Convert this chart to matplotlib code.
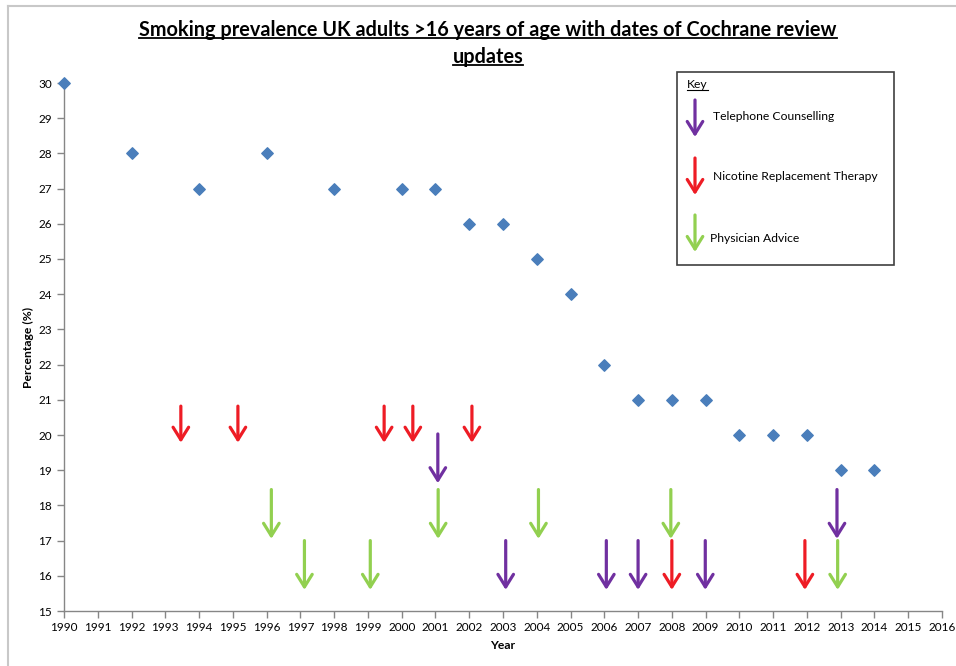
# Smoking prevalence UK adults with Cochrane review update dates
import numpy as np
import matplotlib
matplotlib.use('Agg')
import matplotlib.pyplot as plt
from matplotlib.lines import Line2D

plt.rcParams['font.family'] = ['Lato', 'DejaVu Sans']

# Data
years = [1990, 1992, 1994, 1996, 1998, 2000, 2001, 2002, 2003, 2004,
         2005, 2006, 2007, 2008, 2009, 2010, 2011, 2012, 2013, 2014]
prevalence = [30, 28, 27, 28, 27, 27, 27, 26, 26, 25,
              24, 22, 21, 21, 21, 20, 20, 20, 19, 19]

# review update dates (fractional year), with arrow top / bottom in %
tel_years = [2001.07, 2003.08, 2006.06, 2007.0, 2008.99, 2012.89]
tel_top = [20.03, 17.0, 17.0, 17.0, 17.0, 18.45]
tel_bottom = [18.63, 15.6, 15.6, 15.6, 15.6, 17.05]

nrt_years = [1993.46, 1995.15, 1999.48, 2000.33, 2002.08, 2008.0, 2011.94]
nrt_top = [20.82, 20.82, 20.82, 20.82, 20.82, 17.0, 17.0]
nrt_bottom = [19.78, 19.78, 19.78, 19.78, 19.78, 15.6, 15.6]

pa_years = [1996.14, 1997.12, 1999.07, 2001.08, 2004.05, 2007.97, 2012.91]
pa_top = [18.45, 17.0, 17.0, 18.45, 18.45, 18.45, 17.0]
pa_bottom = [17.05, 15.6, 15.6, 17.05, 17.05, 17.05, 15.6]

key_labels = ['Telephone Counselling', 'Nicotine Replacement Therapy', 'Physician Advice']
colors = ['#7030A0', '#EE1C25', '#92D050']

fig = plt.figure(figsize=(9.56, 6.66), dpi=100)
ax = fig.add_axes([64/956, 55/666, 878/956, 528/666])

ax.scatter(years, prevalence, marker='D', s=34, color='#4A7EBB', zorder=3, clip_on=False)

arrow_style = dict(arrowstyle='->,head_length=0.45,head_width=0.28', lw=2.3,
                   mutation_scale=20, shrinkA=0, shrinkB=0)

def draw_arrows(xs, tops, bottoms, color):
    for x, t, b in zip(xs, tops, bottoms):
        ax.annotate('', xy=(x, b), xytext=(x, t),
                    arrowprops=dict(color=color, **arrow_style))

draw_arrows(nrt_years, nrt_top, nrt_bottom, colors[1])
draw_arrows(pa_years, pa_top, pa_bottom, colors[2])
draw_arrows(tel_years, tel_top, tel_bottom, colors[0])

ax.set_xlim(1990, 2016)
ax.set_ylim(15, 30)
ax.set_xticks(np.arange(1990, 2017))
ax.set_yticks(np.arange(15, 31))
ax.tick_params(axis='both', direction='out', length=5, width=1, color='#868686',
               labelsize=8.5, labelcolor='black')
ax.tick_params(axis='x', pad=3)
for s in ['top', 'right']:
    ax.spines[s].set_visible(False)
for s in ['left', 'bottom']:
    ax.spines[s].set_color('#868686')
    ax.spines[s].set_linewidth(1)

ax.set_xlabel('Year', fontsize=8.7, fontweight='bold', labelpad=5)
ax.set_ylabel('Percentage (%)', fontsize=8.7, fontweight='bold', labelpad=3)

# title, underlined
t1 = fig.text(488/956, 1 - 30/666,
              'Smoking prevalence UK adults >16 years of age with dates of Cochrane review',
              fontsize=14.3, fontweight='bold', ha='center', va='center')
t2 = fig.text(488/956, 1 - 57/666, 'updates', fontsize=14.3, fontweight='bold',
              ha='center', va='center')

# key box
box = plt.Rectangle((677/956, 1 - 265/666), 217/956, 193/666, transform=fig.transFigure,
                    fill=False, edgecolor='#404040', lw=1.2)
fig.add_artist(box)
t3 = fig.text(687/956, 1 - 85/666, 'Key', fontsize=8.7, ha='left', va='center')
key_y = [(100, 137), (158, 195), (215, 252)]
text_pos = [(713, 116), (713, 177), (710, 238)]
for (y0, y1), (tx, ty), lab, c in zip(key_y, text_pos, key_labels, colors):
    fig.add_artist(matplotlib.patches.FancyArrowPatch(
        (695/956, 1 - y0/666), (695/956, 1 - y1/666), transform=fig.transFigure,
        color=c, **arrow_style))
    fig.text(tx/956, 1 - ty/666, lab, fontsize=8.7, ha='left', va='center')

# outer frame (left and top edges visible)
fig.add_artist(Line2D([8/956, 8/956], [0, 1 - 6/666], transform=fig.transFigure,
                      color='#c8c8c8', lw=1.5))
fig.add_artist(Line2D([8/956, 1], [1 - 6/666, 1 - 6/666], transform=fig.transFigure,
                      color='#c8c8c8', lw=1.5))

# underline title and key
fig.canvas.draw()
r = fig.canvas.get_renderer()
for t, off in [(t1, 2), (t2, 2), (t3, 1)]:
    bb = t.get_window_extent(r)
    y = (bb.y0 + off) / fig.bbox.height
    fig.add_artist(Line2D([bb.x0 / fig.bbox.width, bb.x1 / fig.bbox.width], [y, y],
                          transform=fig.transFigure, color='black',
                          lw=1.3 if t is not t3 else 0.8))

fig.savefig('out.png', dpi=100)
